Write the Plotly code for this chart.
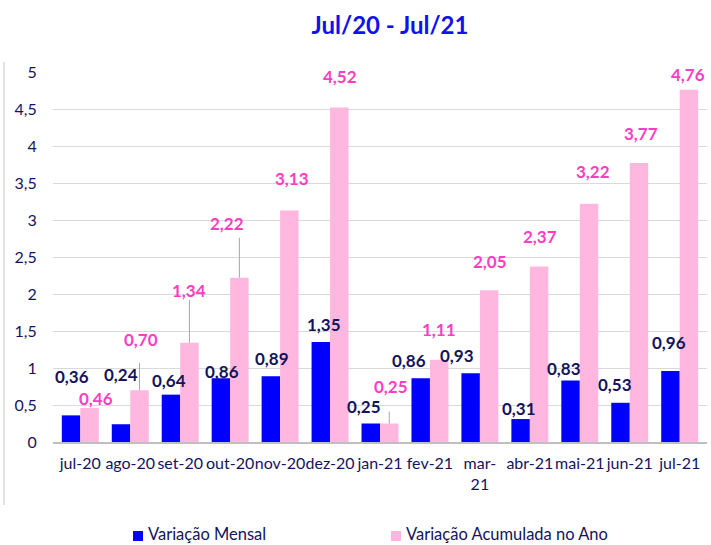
import plotly.graph_objects as go

categories = ["jul-20", "ago-20", "set-20", "out-20", "nov-20", "dez-20", "jan-21",
              "fev-21", "mar-21", "abr-21", "mai-21", "jun-21", "jul-21"]
tick_labels = ["jul-20", "ago-20", "set-20", "out-20", "nov-20", "dez-20", "jan-21",
               "fev-21", "mar-<br>21", "abr-21", "mai-21", "jun-21", "jul-21"]
mensal = [0.36, 0.24, 0.64, 0.86, 0.89, 1.35, 0.25, 0.86, 0.93, 0.31, 0.83, 0.53, 0.96]
acumulada = [0.46, 0.70, 1.34, 2.22, 3.13, 4.52, 0.25, 1.11, 2.05, 2.37, 3.22, 3.77, 4.76]
series_names = ["Variação Mensal", "Variação Acumulada no Ano"]

# label placement offsets (pixels) relative to bar tops
mensal_dx = [1, 0, -2, 1, 1, 3, -7, -12, -14, -2, -7, -5, -1]
mensal_dy = [39, 50, 14, 7, 18, 18, 17, 18, 18, 11, 12, 18, 28]
acum_dx = [6, 1, -1, -12, 3, 1, 2, 0, 1, 1, 4, 2, -1]
acum_dy = [9, 51, 52, 54, 32, 31, 37, 30, 29, 30, 32, 30, 15]
# leader lines (category index -> length in axis units)
leaders = {1: 0.365, 2: 0.58, 3: 0.54, 6: 0.16}

BLUE = "#0000ff"
PINK_BAR = "#ffb7df"
PINK_TXT = "#fb3dc4"
NAVY = "#14145c"
FONT = "Lato"

# plot area geometry in pixels (for legend placement)
L, T, W, H = 53, 72, 654, 370

def px(x):
    return (x - L) / W

def py(y):
    return (T + H - y) / H

fig = go.Figure()
fig.add_trace(go.Bar(x=categories, y=mensal, name=series_names[0],
                     marker=dict(color=BLUE, line=dict(width=0))))
fig.add_trace(go.Bar(x=categories, y=acumulada, name=series_names[1],
                     marker=dict(color=PINK_BAR, line=dict(width=0))))

def fmt(v):
    return f"{v:.2f}".replace(".", ",")

annotations = []
half = 9.3
for i, c in enumerate(categories):
    annotations.append(dict(x=c, y=mensal[i], xref="x", yref="y", text=fmt(mensal[i]),
                            showarrow=False, xshift=-half + mensal_dx[i], yshift=mensal_dy[i],
                            yanchor="middle",
                            font=dict(family=FONT, size=17, color=NAVY, weight="bold")))
    annotations.append(dict(x=c, y=acumulada[i], xref="x", yref="y", text=fmt(acumulada[i]),
                            showarrow=False, xshift=half + acum_dx[i], yshift=acum_dy[i],
                            yanchor="middle",
                            font=dict(family=FONT, size=17, color=PINK_TXT, weight="bold")))

shapes = []
for i, Lg in leaders.items():
    shapes.append(dict(type="line", xref="x", yref="y", x0=i + 0.185, x1=i + 0.185,
                       y0=acumulada[i], y1=acumulada[i] + Lg,
                       line=dict(color="#a6a6a6", width=1)))
# outer chart border on the left
shapes.append(dict(type="line", xref="paper", yref="paper", x0=px(4), x1=px(4),
                   y0=py(62), y1=py(505), line=dict(color="#d9d9d9", width=1.5)))

# custom legend (square + text)
legend_items = [(series_names[0], BLUE, 133, 143, 147),
                (series_names[1], PINK_BAR, 391, 401, 405)]
for name, col, sx0, sx1, tx in legend_items:
    shapes.append(dict(type="rect", xref="paper", yref="paper",
                       x0=px(sx0), x1=px(sx1), y0=py(531), y1=py(541),
                       fillcolor=col, line=dict(width=0)))
    annotations.append(dict(x=px(tx), y=py(534), xref="paper", yref="paper", text=name,
                            showarrow=False, xanchor="left", yanchor="middle", borderpad=0,
                            font=dict(family=FONT, size=16.5, color=NAVY)))

fig.update_layout(
    width=711, height=545,
    margin=dict(l=L, r=711 - L - W, t=T, b=545 - T - H, autoexpand=False),
    paper_bgcolor="white", plot_bgcolor="white",
    separators=",.",
    showlegend=False,
    barmode="group", bargap=0.26, bargroupgap=0,
    font=dict(family=FONT, color=NAVY, size=16),
    title=dict(text="<b>Jul/20 - Jul/21</b>", x=390 / 711, xanchor="center",
               y=1 - 26 / 545, yanchor="middle",
               font=dict(family=FONT, size=24, color="#1010f0")),
    xaxis=dict(type="category", tickvals=categories, ticktext=tick_labels,
               tickangle=0, automargin=False,
               showgrid=False, showline=True, linecolor="#bfbfbf", linewidth=1.5,
               ticks="outside", ticklen=6, tickcolor="rgba(0,0,0,0)",
               tickfont=dict(family=FONT, size=16, color=NAVY)),
    yaxis=dict(range=[0, 5], dtick=0.5, tick0=0, showgrid=True, gridcolor="#d9d9d9",
               gridwidth=1, zeroline=False, showline=False, automargin=False,
               ticks="outside", ticklen=12, tickcolor="rgba(0,0,0,0)",
               tickfont=dict(family=FONT, size=16, color=NAVY)),
    annotations=annotations,
    shapes=shapes,
)

fig.write_html("out.html", config={"displayModeBar": False},
               post_script="document.body.style.margin='0';document.body.style.padding='0';")
